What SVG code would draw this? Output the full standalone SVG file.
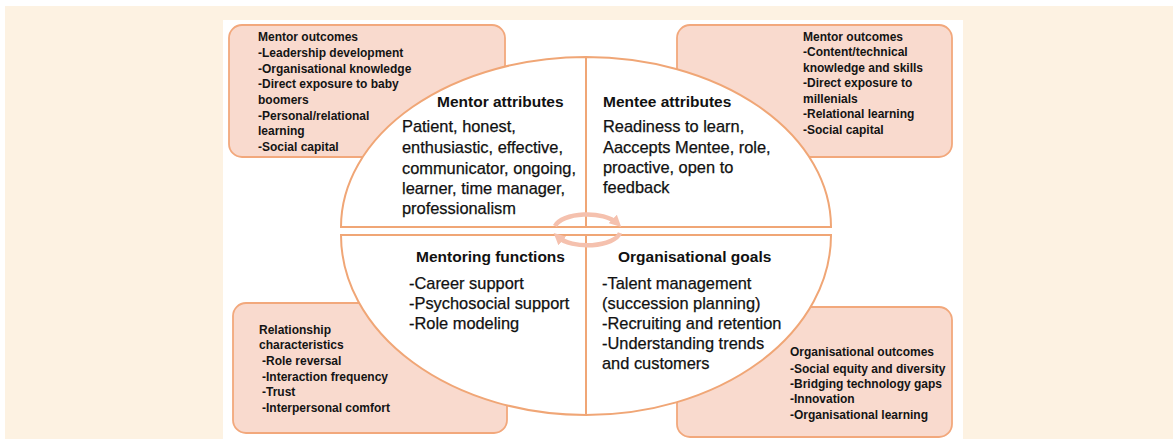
<svg xmlns="http://www.w3.org/2000/svg" width="1173" height="439" viewBox="0 0 1173 439">
<style>
.box{fill:#f9dace;stroke:#f2a87c;stroke-width:1.8}
.quad{fill:#ffffff;stroke:#f0a676;stroke-width:2}
.sm{font-family:"Liberation Sans",Arial,sans-serif;font-size:12px;font-weight:bold;fill:#141414}
.ttl{font-family:"Liberation Sans",Arial,sans-serif;font-size:15.5px;font-weight:bold;fill:#111}
.bd{font-family:"Liberation Sans",Arial,sans-serif;font-size:16.4px;fill:#111;stroke:#111;stroke-width:0.25}
.ring{fill:none;stroke:#f5c1ae;stroke-width:4.5}
</style>
<defs>
<marker id="ah" viewBox="0 0 10 10" refX="5" refY="5" markerWidth="2.6" markerHeight="2.6" orient="auto">
<path d="M0,0 L10,5 L0,10 Z" fill="#f5c1ae"/>
</marker>
</defs>
<rect x="0" y="0" width="1173" height="439" fill="#ffffff"/>
<rect x="5" y="6" width="1168" height="433" fill="#fdf2e2"/>
<rect x="223" y="20" width="740" height="419" fill="#ffffff"/>

<g id="mentor-outcomes-left">
<rect class="box" x="229" y="25" width="276" height="132" rx="13"/>
<text class="sm" x="258" y="41">Mentor outcomes</text>
<text class="sm" x="258" y="57">-Leadership development</text>
<text class="sm" x="258" y="73">-Organisational knowledge</text>
<text class="sm" x="258" y="88">-Direct exposure to baby</text>
<text class="sm" x="258" y="104">boomers</text>
<text class="sm" x="258" y="120">-Personal/relational</text>
<text class="sm" x="258" y="135">learning</text>
<text class="sm" x="258" y="151">-Social capital</text>
</g>

<g id="mentor-outcomes-right">
<rect class="box" x="677" y="25" width="275" height="132" rx="13"/>
<text class="sm" x="803" y="41">Mentor outcomes</text>
<text class="sm" x="803" y="56">-Content/technical</text>
<text class="sm" x="803" y="72">knowledge and skills</text>
<text class="sm" x="803" y="87">-Direct exposure to</text>
<text class="sm" x="803" y="103">millenials</text>
<text class="sm" x="803" y="118">-Relational learning</text>
<text class="sm" x="803" y="134">-Social capital</text>
</g>

<g id="relationship-characteristics">
<rect class="box" x="233" y="303" width="274" height="130" rx="13"/>
<text class="sm" x="259" y="334">Relationship</text>
<text class="sm" x="259" y="349">characteristics</text>
<text class="sm" x="262" y="365">-Role reversal</text>
<text class="sm" x="262" y="381">-Interaction frequency</text>
<text class="sm" x="262" y="396">-Trust</text>
<text class="sm" x="262" y="412">-Interpersonal comfort</text>
</g>

<g id="organisational-outcomes">
<rect class="box" x="677" y="307" width="275" height="130" rx="13"/>
<text class="sm" x="790" y="356">Organisational outcomes</text>
<text class="sm" x="790" y="373">-Social equity and diversity</text>
<text class="sm" x="790" y="388">-Bridging technology gaps</text>
<text class="sm" x="790" y="403">-Innovation</text>
<text class="sm" x="790" y="419">-Organisational learning</text>
</g>

<g id="mentor-attributes">
<path class="quad" d="M586,227 H341 A245,170 0 0 1 586,57 Z"/>
<text class="ttl" x="437" y="107">Mentor attributes</text>
<text class="bd" x="402" y="132">Patient, honest,</text>
<text class="bd" x="402" y="153">enthusiastic, effective,</text>
<text class="bd" x="402" y="174">communicator, ongoing,</text>
<text class="bd" x="402" y="194">learner, time manager,</text>
<text class="bd" x="402" y="214">professionalism</text>
</g>

<g id="mentee-attributes">
<path class="quad" d="M586,227 V57 A245,170 0 0 1 831,227 Z"/>
<text class="ttl" x="603" y="107">Mentee attributes</text>
<text class="bd" x="603" y="132">Readiness to learn,</text>
<text class="bd" x="603" y="153">Aaccepts Mentee, role,</text>
<text class="bd" x="603" y="173">proactive, open to</text>
<text class="bd" x="603" y="193">feedback</text>
</g>

<g id="mentoring-functions">
<path class="quad" d="M586,235 H341 A245,180 0 0 0 586,415 Z"/>
<text class="ttl" x="416" y="262">Mentoring functions</text>
<text class="bd" x="409" y="289">-Career support</text>
<text class="bd" x="409" y="309">-Psychosocial support</text>
<text class="bd" x="409" y="329">-Role modeling</text>
</g>

<g id="organisational-goals">
<path class="quad" d="M586,235 V415 A245,180 0 0 0 831,235 Z"/>
<text class="ttl" x="618" y="262">Organisational goals</text>
<text class="bd" x="602" y="289">-Talent management</text>
<text class="bd" x="602" y="309">(succession planning)</text>
<text class="bd" x="602" y="329">-Recruiting and retention</text>
<text class="bd" x="602" y="349">-Understanding trends</text>
<text class="bd" x="602" y="369">and customers</text>
</g>

<g id="connectors">
<path class="ring" marker-end="url(#ah)" d="M555,226 A33,15 0 0 1 617,223"/>
<path class="ring" marker-end="url(#ah)" d="M620,233 A33,15 0 0 1 558,237"/>
</g>
</svg>
